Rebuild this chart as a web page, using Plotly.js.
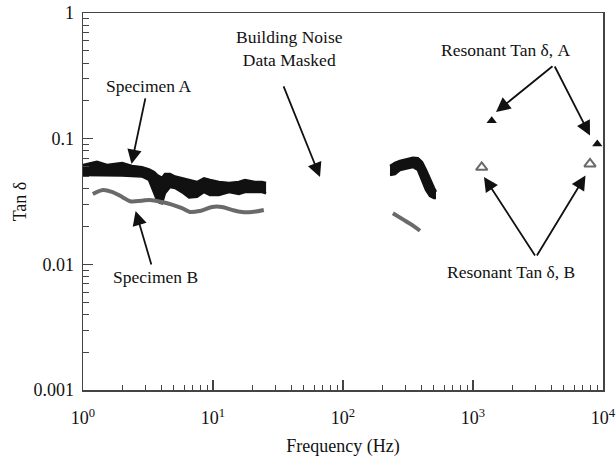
<!DOCTYPE html>
<html>
<head>
<meta charset="utf-8">
<script src="https://cdn.plot.ly/plotly-3.0.1.min.js"></script>
<style>html,body{margin:0;padding:0;background:#fff;}#chart{width:616px;height:457px;}</style>
</head>
<body>
<div id="chart"></div>
<script>
// Specimen A, low-frequency band (upper / lower edge of the plotted band)
const freqA  = [1.00,1.13,1.28,1.53,1.76,2.00,2.38,2.84,3.22,3.52,3.71,3.91,4.05,4.27,4.67,5.10,5.77,6.54,7.53,8.53,9.48,11.1,13.3,15.8,17.6,18.9,21.0,23.8,25.6];
const upperA = [0.0618,0.0641,0.0656,0.0618,0.0630,0.0639,0.0607,0.0592,0.0570,0.0543,0.0514,0.0496,0.0487,0.0523,0.0523,0.0500,0.0487,0.0469,0.0452,0.0483,0.0469,0.0452,0.0443,0.0452,0.0469,0.0460,0.0452,0.0452,0.0444];
const lowerA = [0.0514,0.0514,0.0514,0.0514,0.0514,0.0510,0.0505,0.0500,0.0469,0.0376,0.0325,0.0308,0.0306,0.0368,0.0413,0.0405,0.0376,0.0341,0.0345,0.0376,0.0357,0.0357,0.0376,0.0363,0.0376,0.0376,0.0376,0.0376,0.0368];
// Specimen B, low-frequency line
const freqB = [1.19,1.43,1.67,2.00,2.30,2.84,3.28,4.05,4.83,5.77,6.65,7.94,9.82,11.7,14.0,16.7,19.9,24.6];
const valB  = [0.0363,0.0391,0.0377,0.0344,0.0318,0.0321,0.0325,0.0313,0.0299,0.0280,0.0261,0.0266,0.0286,0.0286,0.0271,0.0261,0.0261,0.0271];
// Specimen A, 200-500 Hz band
const freqA2  = [230,251,274,310,345,377,405,435,467,501,519];
const upperA2 = [0.0606,0.0641,0.0664,0.0688,0.0706,0.0700,0.0653,0.0564,0.0469,0.0405,0.0377];
const lowerA2 = [0.0514,0.0523,0.0564,0.0585,0.0596,0.0564,0.0469,0.0391,0.0350,0.0337,0.0337];
// Specimen B, 200-500 Hz line
const freqB2 = [242,289,339,391];
const valB2  = [0.0255,0.0228,0.0206,0.0185];
// Resonant tan delta
const resAf = [1393,9040];
const resAv = [0.139,0.0908];
const resBf = [1167,7943];
const resBv = [0.0592,0.0629];
// Tick labels
const xTickVals = [1,10,100,1000,10000];
const xTickText = ['10<sup>0</sup>','10<sup>1</sup>','10<sup>2</sup>','10<sup>3</sup>','10<sup>4</sup>'];
const yTickVals = [0.001,0.01,0.1,1];
const yTickText = ['0.001','0.01','0.1','1'];

function minorVals(lo, hi){
  const out=[];
  for(let d=lo; d<hi; d++){ for(let k=2;k<=9;k++){ out.push(k*Math.pow(10,d)); } }
  return out;
}

const black='#111111', gray='#6a6a6a';
const FONT='"Liberation Serif", "Times New Roman", serif';

const traces = [
  {x:freqA, y:upperA, mode:'lines', line:{color:black,width:2.5}, showlegend:false},
  {x:freqA, y:lowerA, mode:'lines', line:{color:black,width:2.5}, fill:'tonexty', fillcolor:black, showlegend:false},
  {x:freqB, y:valB, mode:'lines', line:{color:gray,width:4,shape:'spline'}, showlegend:false},
  {x:freqA2, y:upperA2, mode:'lines', line:{color:black,width:2.5}, showlegend:false},
  {x:freqA2, y:lowerA2, mode:'lines', line:{color:black,width:2.5}, fill:'tonexty', fillcolor:black, showlegend:false},
  {x:freqB2, y:valB2, mode:'lines', line:{color:gray,width:4,shape:'spline'}, showlegend:false},
  {x:resAf, y:resAv, mode:'markers', marker:{symbol:'triangle-up', size:9, color:black}, showlegend:false},
  {x:resBf, y:resBv, mode:'markers', marker:{symbol:'triangle-up-open', size:10, color:gray, line:{width:2,color:gray}}, showlegend:false}
];

const TXT = {family:FONT,size:17.5,color:black};
// tip in pixels -> axis coordinates (log axes use log10 units)
function tipX(px){ return (px-83)/130; }
function tipY(py){ return -(py-13)/125.7; }
function arrow(tipPx, tipPy, tailPx, tailPy){
  return {x:tipX(tipPx), y:tipY(tipPy), xref:'x', yref:'y', text:'', showarrow:true,
    ax:tailPx-tipPx, ay:tailPy-tipPy,
    arrowhead:2, arrowsize:1.6, arrowwidth:1.8, arrowcolor:black, standoff:0, startstandoff:0};
}
function labelArrow(txt, cx, cy, tipPx, tipPy){
  return {x:tipX(tipPx), y:tipY(tipPy), xref:'x', yref:'y', text:txt, showarrow:true,
    ax:cx-tipPx, ay:cy-tipPy, xanchor:'center', yanchor:'middle', font:TXT,
    arrowhead:2, arrowsize:1.6, arrowwidth:1.8, arrowcolor:black, standoff:0, startstandoff:1};
}
function label(txt, px, py){
  return {x:(px-83)/520, y:(390-py)/377, xref:'paper', yref:'paper', text:txt, showarrow:false,
    xanchor:'center', yanchor:'middle', font:TXT};
}

const layout = {
  width:616, height:457,
  margin:{l:83, r:13, t:13, b:67},
  paper_bgcolor:'#fff', plot_bgcolor:'#fff',
  font:{family:FONT, size:18, color:black},
  xaxis:{type:'log', range:[0,4], tickmode:'array', tickvals:xTickVals, ticktext:xTickText,
    tickfont:{family:FONT,size:18,color:black},
    ticks:'inside', ticklen:10, tickwidth:1.2, tickcolor:'#444', ticklabelstandoff:11,
    showline:true, linecolor:'#444', linewidth:1.5, mirror:true, showgrid:false, zeroline:false,
    minor:{tickmode:'array', tickvals:minorVals(0,4), ticks:'inside', ticklen:5, tickwidth:1, tickcolor:'#444', showgrid:false},
    title:{text:'Frequency (Hz)', font:{family:FONT,size:18,color:black}, standoff:12}},
  yaxis:{type:'log', range:[-3,0], tickmode:'array', tickvals:yTickVals, ticktext:yTickText,
    tickfont:{family:FONT,size:18,color:black},
    ticks:'inside', ticklen:10, tickwidth:1.2, tickcolor:'#444', ticklabelstandoff:4,
    showline:true, linecolor:'#444', linewidth:1.5, mirror:true, showgrid:false, zeroline:false,
    minor:{tickmode:'array', tickvals:minorVals(-3,0), ticks:'inside', ticklen:6, tickwidth:1, tickcolor:'#444', showgrid:false},
    title:{text:'Tan δ', font:{family:FONT,size:18,color:black}, standoff:2}},
  annotations:[
    labelArrow('Specimen A',148,86,131.5,164),
    labelArrow('Specimen B',155,277,135.6,211),
    label('Building Noise<br>Data Masked',289,49),
    label('Resonant Tan δ, A',506,50),
    label('Resonant Tan δ, B',511,272),
    arrow(320,177,283,85),
    arrow(496,112,554,65),
    arrow(590,135.5,554,65),
    arrow(484,177,536,257),
    arrow(585.5,175.6,536,257)
  ]
};

Plotly.newPlot('chart', traces, layout, {displayModeBar:false, staticPlot:true});
</script>
</body>
</html>
